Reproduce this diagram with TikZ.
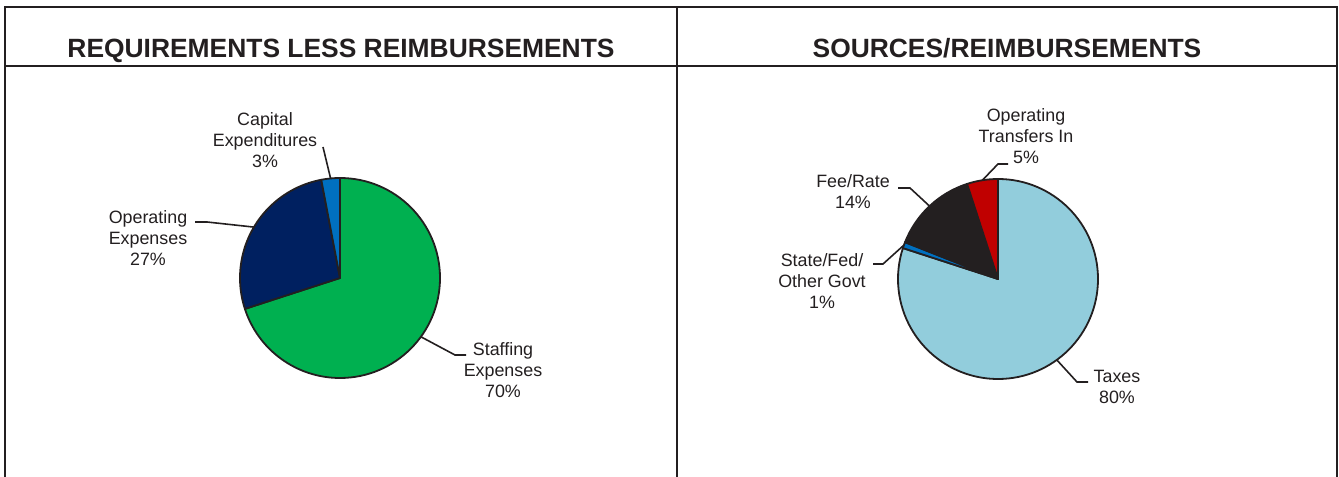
\documentclass[tikz,border=0pt]{standalone}
\usepackage{fontspec}
\setmainfont{Liberation Sans}
\usetikzlibrary{calc}
\definecolor{staffgreen}{RGB}{0,176,80}
\definecolor{opexnavy}{RGB}{0,32,96}
\definecolor{capblue}{RGB}{0,112,192}
\definecolor{taxblue}{RGB}{146,205,220}
\definecolor{feeblack}{RGB}{35,31,32}
\definecolor{xferred}{RGB}{192,0,0}
\definecolor{inkline}{RGB}{35,31,32}

\begin{document}
\begin{tikzpicture}[x=0.75pt,y=0.75pt,yscale=-1,xscale=1,
    frame/.style={draw=inkline, line width=1.8pt},
    slice/.style={draw=inkline, line width=1.35pt, line join=round},
    leader/.style={draw=inkline, line width=1.2pt},
    lbl/.style={inner sep=0.75pt, align=center, text=inkline, font=\fontsize{13.4}{15.8}\selectfont},
    ttl/.style={inner sep=0.75pt, anchor=base, text=inkline, font=\bfseries\fontsize{19.8}{24}\selectfont}]
    \useasboundingbox (0,0) rectangle (1339,477);

    %Frame
    \draw [frame] (5,477) -- (5,7) -- (1337,7) -- (1337,477) ;
    \draw [frame] (5,66) -- (1337,66) ;
    \draw [frame] (677,7) -- (677,477) ;

    % Text Node
    \node [ttl] (reqttl) at (341,58) {REQUIREMENTS LESS REIMBURSEMENTS};
    % Text Node
    \node [ttl] (srcttl) at (1007,58) {SOURCES/REIMBURSEMENTS};

    %Pie centres
    \coordinate (lpie) at (340,278);
    \coordinate (rpie) at (998,279);

    %Shape: Pie [left]
    \draw [slice, fill=staffgreen] (lpie) -- ++(-90:100) arc [start angle=-90, end angle=162, radius=100] -- cycle ;
    \draw [slice, fill=opexnavy] (lpie) -- ++(162:100) arc [start angle=162, end angle=259.2, radius=100] -- cycle ;
    \draw [slice, fill=capblue] (lpie) -- ++(259.2:100) arc [start angle=259.2, end angle=270, radius=100] -- cycle ;

    %Shape: Pie [right]
    \draw [slice, fill=taxblue] (rpie) -- ++(-90:100) arc [start angle=-90, end angle=198, radius=100] -- cycle ;
    \draw [slice, fill=capblue] (rpie) -- ++(198:100) arc [start angle=198, end angle=201.6, radius=100] -- cycle ;
    \draw [slice, fill=feeblack] (rpie) -- ++(201.6:100) arc [start angle=201.6, end angle=252, radius=100] -- cycle ;
    \draw [slice, fill=xferred] (rpie) -- ++(252:100) arc [start angle=252, end angle=270, radius=100] -- cycle ;

    % Text Node
    \node [lbl] (capex) at (265,140) {Capital\\Expenditures\\3\%};
    % Text Node
    \node [lbl] (opex) at (148,238) {Operating\\Expenses\\27\%};
    % Text Node
    \node [lbl] (staff) at (503,370) {Staffing\\Expenses\\70\%};
    % Text Node
    \node [lbl] (xfer) at (1026,136) {Operating\\Transfers In\\5\%};
    % Text Node
    \node [lbl] (fee) at (853,192) {Fee/Rate\\14\%};
    % Text Node
    \node [lbl] (govt) at (822,281) {State/Fed/\\Other Govt\\1\%};
    % Text Node
    \node [lbl] (taxes) at (1117,387) {Taxes\\80\%};

    %Leader ends
    \coordinate (capexE) at ($(lpie)+(264.6:100)$);
    \coordinate (capexT) at (323,147);
    \coordinate (opexE) at ($(lpie)+(210.6:100)$);
    \coordinate (opexK) at (207,222);
    \coordinate (opexT) at (195,222);
    \coordinate (staffE) at ($(lpie)+(36:100)$);
    \coordinate (staffK) at (455,355);
    \coordinate (staffT) at (466,355);
    \coordinate (xferE) at ($(rpie)+(261:100)$);
    \coordinate (xferK) at (998,164);
    \coordinate (xferT) at (1008,164);
    \coordinate (feeE) at ($(rpie)+(226.8:100)$);
    \coordinate (feeK) at (910,188);
    \coordinate (feeT) at (898,188);
    \coordinate (govtE) at ($(rpie)+(199.8:100)$);
    \coordinate (govtK) at (883,264);
    \coordinate (govtT) at (873,264);
    \coordinate (taxesE) at ($(rpie)+(54:100)$);
    \coordinate (taxesK) at (1077,382);
    \coordinate (taxesT) at (1088,382);

    % Connection
    \draw [leader] (capexT) -- (capexE) ;
    \draw [leader] (opexT) -- (opexK) -- (opexE) ;
    \draw [leader] (staffE) -- (staffK) -- (staffT) ;
    \draw [leader] (xferE) -- (xferK) -- (xferT) ;
    \draw [leader] (feeT) -- (feeK) -- (feeE) ;
    \draw [leader] (govtT) -- (govtK) -- (govtE) ;
    \draw [leader] (taxesE) -- (taxesK) -- (taxesT) ;

\end{tikzpicture}
\end{document}
